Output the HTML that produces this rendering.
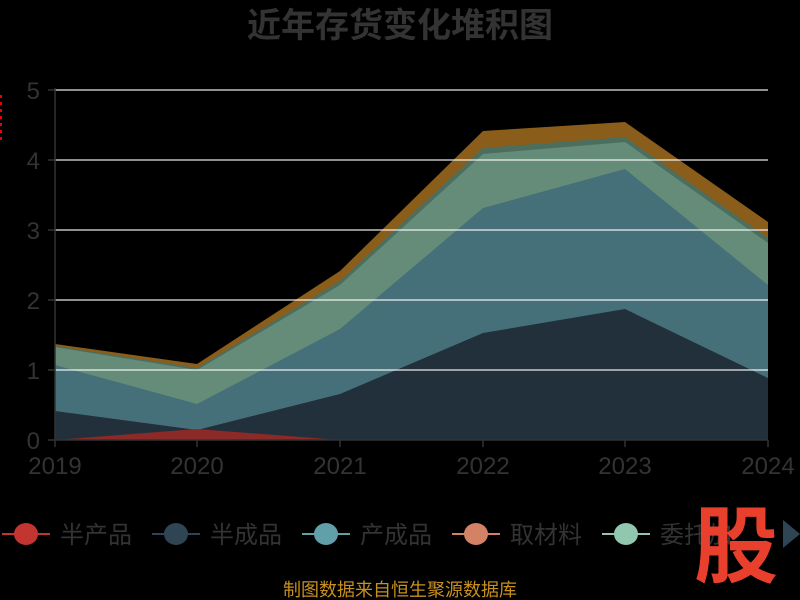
<!DOCTYPE html>
<html><head><meta charset="utf-8"><style>
body{margin:0;background:#000;}
svg{display:block;font-family:"Liberation Sans","Noto Sans CJK SC",sans-serif;}
</style></head><body>
<svg width="800" height="600" viewBox="0 0 800 600">
<rect width="800" height="600" fill="#000"/>
<text x="400" y="37" text-anchor="middle" font-size="34" font-weight="bold" fill="#333">近年存货变化堆积图</text>
<polygon points="55,344 197,364 340,271 483,131 625,122 768,222 768,440 55,440" fill="#8b5d1a"/>
<polygon points="55,346 197,368 340,281 483,148 625,137 768,238 768,440 55,440" fill="#4b6e5e"/>
<polygon points="55,347 197,370 340,285 483,154 625,142 768,243 768,440 55,440" fill="#648c78"/>
<polygon points="55,365 197,404 340,329 483,208 625,169 768,285 768,440 55,440" fill="#467079"/>
<polygon points="55,411 197,430 340,394 483,333 625,309 768,378 768,440 55,440" fill="#22303b"/>
<polygon points="55,440 197,429 340,440" fill="#8b2a26"/>
<g stroke="#fff" stroke-opacity="0.75" stroke-width="1.5">
<line x1="55" y1="90" x2="768" y2="90"/>
<line x1="55" y1="160" x2="768" y2="160"/>
<line x1="55" y1="230" x2="768" y2="230"/>
<line x1="55" y1="300" x2="768" y2="300"/>
<line x1="55" y1="370" x2="768" y2="370"/>
</g>
<g stroke="#333" stroke-width="1.5">
<line x1="55" y1="88" x2="55" y2="440"/>
<line x1="48" y1="440" x2="768" y2="440"/>
<line x1="48" y1="90" x2="55" y2="90"/><line x1="48" y1="160" x2="55" y2="160"/><line x1="48" y1="230" x2="55" y2="230"/><line x1="48" y1="300" x2="55" y2="300"/><line x1="48" y1="370" x2="55" y2="370"/>
<line x1="55" y1="440" x2="55" y2="447"/><line x1="197" y1="440" x2="197" y2="447"/><line x1="340" y1="440" x2="340" y2="447"/><line x1="483" y1="440" x2="483" y2="447"/><line x1="625" y1="440" x2="625" y2="447"/><line x1="768" y1="440" x2="768" y2="447"/>
</g>
<g fill="#333" font-size="24" text-anchor="end">
<text x="40" y="99">5</text><text x="40" y="169">4</text><text x="40" y="239">3</text><text x="40" y="309">2</text><text x="40" y="379">1</text><text x="40" y="449">0</text>
</g>
<g fill="#333" font-size="24" text-anchor="middle">
<text x="55" y="474">2019</text><text x="197" y="474">2020</text><text x="340" y="474">2021</text><text x="483" y="474">2022</text><text x="625" y="474">2023</text><text x="768" y="474">2024</text>
</g>
<g stroke="#e00" stroke-width="2" stroke-dasharray="3,4"><line x1="1" y1="95" x2="1" y2="140"/></g>
<g font-size="24" fill="#333">
<line x1="2" y1="534" x2="50" y2="534" stroke="#c23531" stroke-width="2"/><ellipse cx="26" cy="534" rx="12" ry="11" fill="#c23531"/><text x="60" y="543">半产品</text>
<line x1="152" y1="534" x2="200" y2="534" stroke="#2f4554" stroke-width="2"/><ellipse cx="176" cy="534" rx="12" ry="11" fill="#2f4554"/><text x="210" y="543">半成品</text>
<line x1="302" y1="534" x2="350" y2="534" stroke="#61a0a8" stroke-width="2"/><ellipse cx="326" cy="534" rx="12" ry="11" fill="#61a0a8"/><text x="360" y="543">产成品</text>
<line x1="452" y1="534" x2="500" y2="534" stroke="#d48265" stroke-width="2"/><ellipse cx="476" cy="534" rx="12" ry="11" fill="#d48265"/><text x="510" y="543">取材料</text>
<line x1="602" y1="534" x2="650" y2="534" stroke="#91c7ae" stroke-width="2"/><ellipse cx="626" cy="534" rx="12" ry="11" fill="#91c7ae"/><text x="660" y="543">委托加</text>
</g>
<text x="736" y="576" text-anchor="middle" font-size="84" font-weight="bold" fill="#e8402c">股</text>
<polygon points="783,520 800,534 783,548" fill="#2f4554"/>
<text x="400" y="596" text-anchor="middle" font-size="18" fill="#c8901e">制图数据来自恒生聚源数据库</text>
</svg>
</body></html>
